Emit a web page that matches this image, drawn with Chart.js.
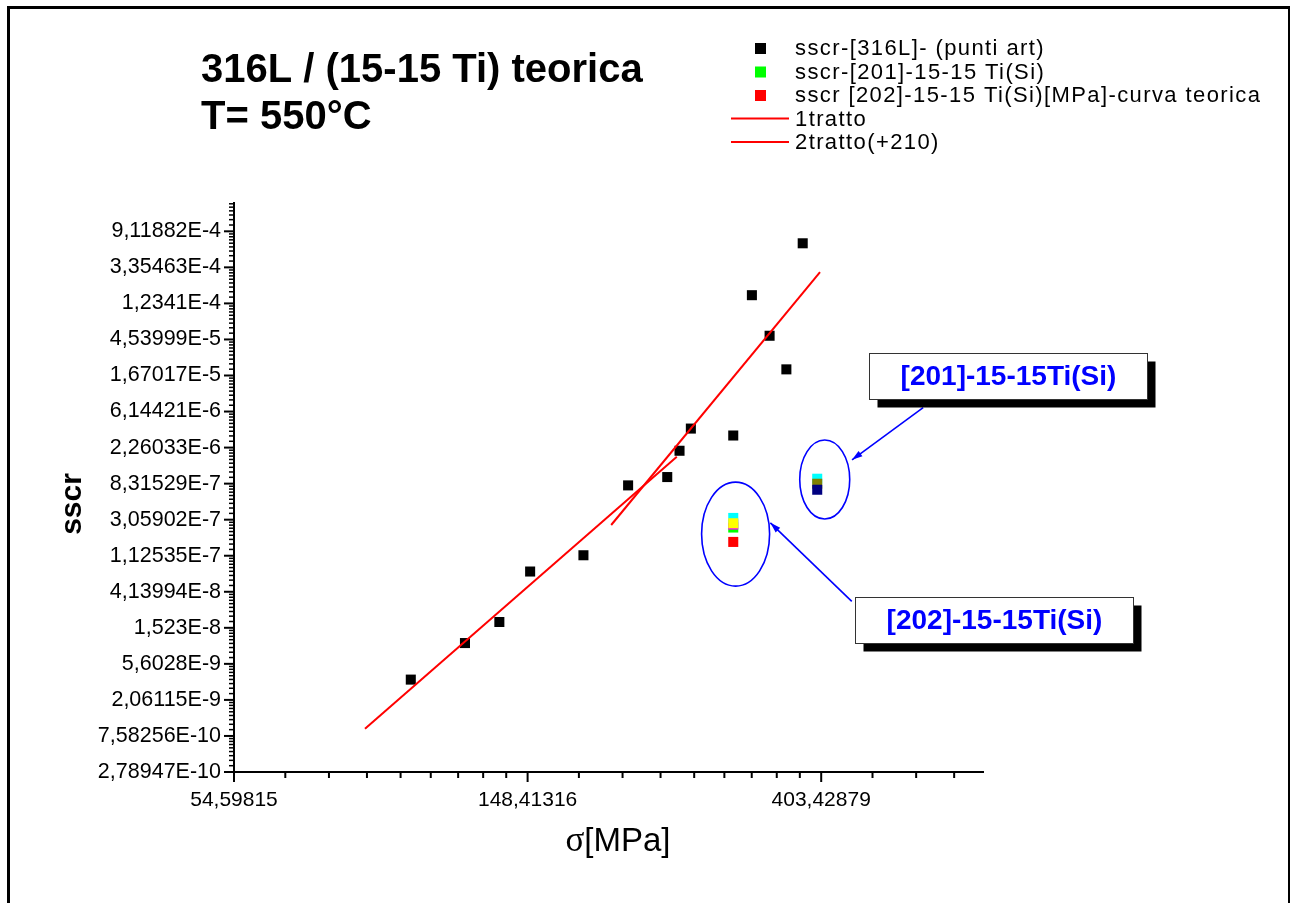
<!DOCTYPE html>
<html>
<head>
<meta charset="utf-8">
<script src="https://cdn.jsdelivr.net/npm/chart.js@4.4.1/dist/chart.umd.min.js"></script>
<style>
html, body { margin: 0; padding: 0; background: #fff; }
</style>
</head>
<body>
<canvas id="graficoSscr" width="1290" height="903"></canvas>
<script>
// punti sperimentali 316L (sigma [MPa], sscr)
const sigma316 = [99.7, 119.9, 134.8, 149.7, 179.5, 209.0, 238.8, 249.0, 258.8, 299.0, 318.6, 338.4, 358.3, 378.8];
const sscr316  = [3.62e-9, 9.98e-9, 1.79e-8, 7.26e-8, 1.14e-7, 7.92e-7, 9.98e-7, 2.07e-6, 3.83e-6, 3.16e-6, 1.55e-4, 5.03e-5, 1.98e-5, 6.54e-4];

// curve teoriche
const sigmaTratto1 = [85.3, 246.7];
const sscrTratto1  = [9.23e-10, 1.75e-6];
const sigmaTratto2 = [197.3, 401.8];
const sscrTratto2  = [2.64e-7, 2.93e-4];

// 15-15 Ti(Si)
const sigmaVerde = [299.0];   const sscrVerde = [2.46e-7];
const sigmaRosso = [299.0];   const sscrRosso = [1.65e-7];
const sigmaCiano = [299.0, 398.0]; const sscrCiano = [3.21e-7, 9.53e-7];
const sigmaGiallo = [299.0];  const sscrGiallo = [2.77e-7];
const sigmaMagenta = [299.0]; const sscrMagenta = [2.67e-7];
const sigmaOliva = [398.0];   const sscrOliva = [8.29e-7];
const sigmaBlu = [398.0];     const sscrBlu = [7.02e-7];

// tacche principali
const xTickVal = [54.59815, 148.41316, 403.42879];
const xTickLbl = ['54,59815', '148,41316', '403,42879'];
const yTickVal = [2.78947e-10, 7.58256e-10, 2.06115e-9, 5.6028e-9, 1.523e-8, 4.13994e-8, 1.12535e-7, 3.05902e-7,
                  8.31529e-7, 2.26033e-6, 6.14421e-6, 1.67017e-5, 4.53999e-5, 1.2341e-4, 3.35463e-4, 9.11882e-4];
const yTickLbl = ['2,78947E-10', '7,58256E-10', '2,06115E-9', '5,6028E-9', '1,523E-8', '4,13994E-8', '1,12535E-7', '3,05902E-7',
                  '8,31529E-7', '2,26033E-6', '6,14421E-6', '1,67017E-5', '4,53999E-5', '1,2341E-4', '3,35463E-4', '9,11882E-4'];

const xMin = 54.59815, xMax = 700;
const yMin = 2.78947e-10, yMax = 0.002;

function punti(xs, ys) {
    const out = [];
    for (let i = 0; i < xs.length; i++) out.push({x: xs[i], y: ys[i]});
    return out;
}

// tacche: 8 secondarie per intervallo
function tutteLeTacche(maggiori, max) {
    const out = [];
    for (let a of maggiori) {
        out.push(a);
        const b = a * Math.E;
        for (let k = 1; k <= 8; k++) {
            const v = a + k * (b - a) / 9;
            if (v <= max) out.push(v);
        }
    }
    return out;
}
const xTacche = tutteLeTacche(xTickVal, xMax);
const yTacche = tutteLeTacche(yTickVal, yMax);

function indiceMaggiore(lista, v) {
    for (let i = 0; i < lista.length; i++) {
        if (Math.abs(lista[i] - v) / lista[i] < 1e-6) return i;
    }
    return -1;
}

function serie(label, xs, ys, colore, ordine) {
    return {
        label: label, data: punti(xs, ys), order: ordine,
        pointStyle: 'rect', pointRadius: 7.1, pointHoverRadius: 7.1,
        backgroundColor: colore, borderColor: colore, pointBorderWidth: 0, showLine: false
    };
}
function linea(label, xs, ys, ordine) {
    return {
        label: label, data: punti(xs, ys), order: ordine, showLine: true,
        borderColor: '#ff0000', backgroundColor: '#ff0000', borderWidth: 2, pointRadius: 0
    };
}

const datasets = [
    linea('1tratto', sigmaTratto1, sscrTratto1, 0),
    linea('2tratto(+210)', sigmaTratto2, sscrTratto2, 0),
    serie('sscr-[316L]- (punti art)', sigma316, sscr316, '#000000', 1),
    serie('giallo', sigmaGiallo, sscrGiallo, '#ffff00', 2),
    serie('blu', sigmaBlu, sscrBlu, '#000080', 2),
    serie('oliva', sigmaOliva, sscrOliva, '#808000', 3),
    serie('ciano', sigmaCiano, sscrCiano, '#00ffff', 4),
    serie('magenta', sigmaMagenta, sscrMagenta, '#ff00ff', 5),
    serie('sscr-[201]-15-15 Ti(Si)', sigmaVerde, sscrVerde, '#00ff00', 6),
    serie('sscr [202]-15-15 Ti(Si)[MPa]-curva teorica', sigmaRosso, sscrRosso, '#ff0000', 7)
];
const legendaOrdine = [2, 8, 9, 0, 1];

// annotazioni (coordinate dati)
const ellissi = [
    {x: 301.4, y: 2.05e-7, rx: 34, ry: 52},
    {x: 408.3, y: 9.32e-7, rx: 25, ry: 39.5}
];
const frecce = [
    {x1: 570.9, y1: 6.85e-6, x2: 448.1, y2: 1.61e-6},
    {x1: 447.7, y1: 3.17e-8, x2: 339.3, y2: 2.80e-7}
];
const riquadri = [
    {x: 474.8, y: 3.09e-5, testo: '[201]-15-15Ti(Si)'},
    {x: 452.7, y: 3.57e-8, testo: '[202]-15-15Ti(Si)'}
];

const extra = {
    id: 'extra',
    afterDraw(chart) {
        const ctx = chart.ctx;
        const sx = chart.scales.x, sy = chart.scales.y;
        const area = chart.chartArea;
        ctx.save();

        // cornice
        ctx.strokeStyle = '#000';
        ctx.lineWidth = 3;
        ctx.strokeRect(8.5, 7.5, 1281, 1000);

        // tacche asse y
        for (let v of yTacche) {
            const y = sy.getPixelForValue(v);
            const len = indiceMaggiore(yTickVal, v) >= 0 ? 10 : 5;
            ctx.lineWidth = len === 10 ? 2 : 1.5;
            ctx.beginPath();
            ctx.moveTo(area.left - len, y);
            ctx.lineTo(area.left, y);
            ctx.stroke();
        }
        // tacche asse x
        for (let v of xTacche) {
            const x = sx.getPixelForValue(v);
            const len = indiceMaggiore(xTickVal, v) >= 0 ? 10 : 6;
            ctx.lineWidth = 2;
            ctx.beginPath();
            ctx.moveTo(x, area.bottom);
            ctx.lineTo(x, area.bottom + len);
            ctx.stroke();
        }

        // titolo asse x
        ctx.fillStyle = '#000';
        ctx.textBaseline = 'alphabetic';
        ctx.font = '35px "Liberation Serif"';
        const wSig = ctx.measureText('\u03c3').width;
        ctx.font = '33px "Liberation Sans"';
        const wResto = ctx.measureText('[MPa]').width;
        let xt = 618 - (wSig + wResto) / 2;
        ctx.font = '35px "Liberation Serif"';
        ctx.fillText('\u03c3', xt, 851);
        ctx.font = '33px "Liberation Sans"';
        ctx.fillText('[MPa]', xt + wSig, 851);

        // titolo asse y
        ctx.save();
        ctx.translate(73, 504);
        ctx.rotate(-Math.PI / 2);
        ctx.font = 'bold 30px "Liberation Sans"';
        ctx.textAlign = 'center';
        ctx.textBaseline = 'middle';
        ctx.fillText('sscr', 0, 0);
        ctx.restore();

        // titolo
        ctx.font = 'bold 40px "Liberation Sans"';
        ctx.fillText('316L / (15-15 Ti) teorica', 201, 82);
        ctx.fillText('T= 550°C', 201, 129);

        // legenda
        ctx.font = '22px "Liberation Sans"';
        ctx.letterSpacing = '1.4px';
        ctx.textBaseline = 'middle';
        legendaOrdine.forEach((idx, i) => {
            const ds = chart.data.datasets[idx];
            const y = 48 + i * 23.5;
            if (ds.showLine) {
                ctx.strokeStyle = ds.borderColor;
                ctx.lineWidth = 2;
                ctx.beginPath();
                ctx.moveTo(731, y);
                ctx.lineTo(789, y);
                ctx.stroke();
            } else {
                ctx.fillStyle = ds.backgroundColor;
                ctx.fillRect(755, y - 5, 11, 11);
            }
            ctx.fillStyle = '#000';
            ctx.fillText(ds.label, 795, y + 1);
        });
        ctx.letterSpacing = '0px';

        // ellissi
        ctx.strokeStyle = '#0000ff';
        ctx.lineWidth = 1.6;
        for (let e of ellissi) {
            ctx.beginPath();
            ctx.ellipse(sx.getPixelForValue(e.x), sy.getPixelForValue(e.y), e.rx, e.ry, 0, 0, Math.PI * 2);
            ctx.stroke();
        }
        // frecce
        ctx.fillStyle = '#0000ff';
        for (let f of frecce) {
            const x1 = sx.getPixelForValue(f.x1), y1 = sy.getPixelForValue(f.y1);
            const x2 = sx.getPixelForValue(f.x2), y2 = sy.getPixelForValue(f.y2);
            const ang = Math.atan2(y2 - y1, x2 - x1);
            ctx.beginPath();
            ctx.moveTo(x1, y1);
            ctx.lineTo(x2, y2);
            ctx.stroke();
            ctx.beginPath();
            ctx.moveTo(x2, y2);
            ctx.lineTo(x2 - 11 * Math.cos(ang - 0.3), y2 - 11 * Math.sin(ang - 0.3));
            ctx.lineTo(x2 - 11 * Math.cos(ang + 0.3), y2 - 11 * Math.sin(ang + 0.3));
            ctx.closePath();
            ctx.fill();
        }
        // riquadri con ombra
        for (let r of riquadri) {
            const x = Math.round(sx.getPixelForValue(r.x)) + 0.5;
            const y = Math.round(sy.getPixelForValue(r.y)) + 0.5;
            const w = 278, h = 46;
            ctx.fillStyle = '#000';
            ctx.fillRect(x + 8, y + 8, w, h);
            ctx.fillStyle = '#fff';
            ctx.fillRect(x, y, w, h);
            ctx.strokeStyle = '#333';
            ctx.lineWidth = 1;
            ctx.strokeRect(x, y, w, h);
            ctx.fillStyle = '#0000ff';
            ctx.font = 'bold 28px "Liberation Sans"';
            ctx.textAlign = 'center';
            ctx.textBaseline = 'middle';
            ctx.fillText(r.testo, x + w / 2, y + h / 2 + 1);
            ctx.textAlign = 'left';
        }
        ctx.restore();
    }
};

const grafico = new Chart(document.getElementById('graficoSscr'), {
    type: 'scatter',
    data: { datasets: datasets },
    options: {
        responsive: false,
        animation: false,
        devicePixelRatio: 1,
        layout: { padding: { top: 203, right: 307, left: 0, bottom: 0 } },
        plugins: { legend: { display: false }, tooltip: { enabled: false } },
        scales: {
            x: {
                type: 'logarithmic', min: xMin, max: xMax,
                afterBuildTicks: (s) => { s.ticks = xTacche.map(v => ({value: v})); },
                afterFit: (s) => { s.height = 131; },
                grid: { display: false, drawTicks: false },
                border: { display: true, color: '#000', width: 2 },
                ticks: {
                    autoSkip: false, maxRotation: 0, minRotation: 0, padding: 16, color: '#000',
                    font: { family: 'Liberation Sans', size: 21 },
                    callback: (v) => { const i = indiceMaggiore(xTickVal, v); return i >= 0 ? xTickLbl[i] : ''; }
                }
            },
            y: {
                type: 'logarithmic', min: yMin, max: yMax,
                afterBuildTicks: (s) => { s.ticks = yTacche.map(v => ({value: v})); },
                afterFit: (s) => { s.width = 234; },
                grid: { display: false, drawTicks: false },
                border: { display: true, color: '#000', width: 2 },
                ticks: {
                    autoSkip: false, padding: 13, color: '#000',
                    font: { family: 'Liberation Sans', size: 21.5 },
                    callback: (v) => { const i = indiceMaggiore(yTickVal, v); return i >= 0 ? yTickLbl[i] : ''; }
                }
            }
        }
    },
    plugins: [extra]
});
</script>
</body>
</html>
